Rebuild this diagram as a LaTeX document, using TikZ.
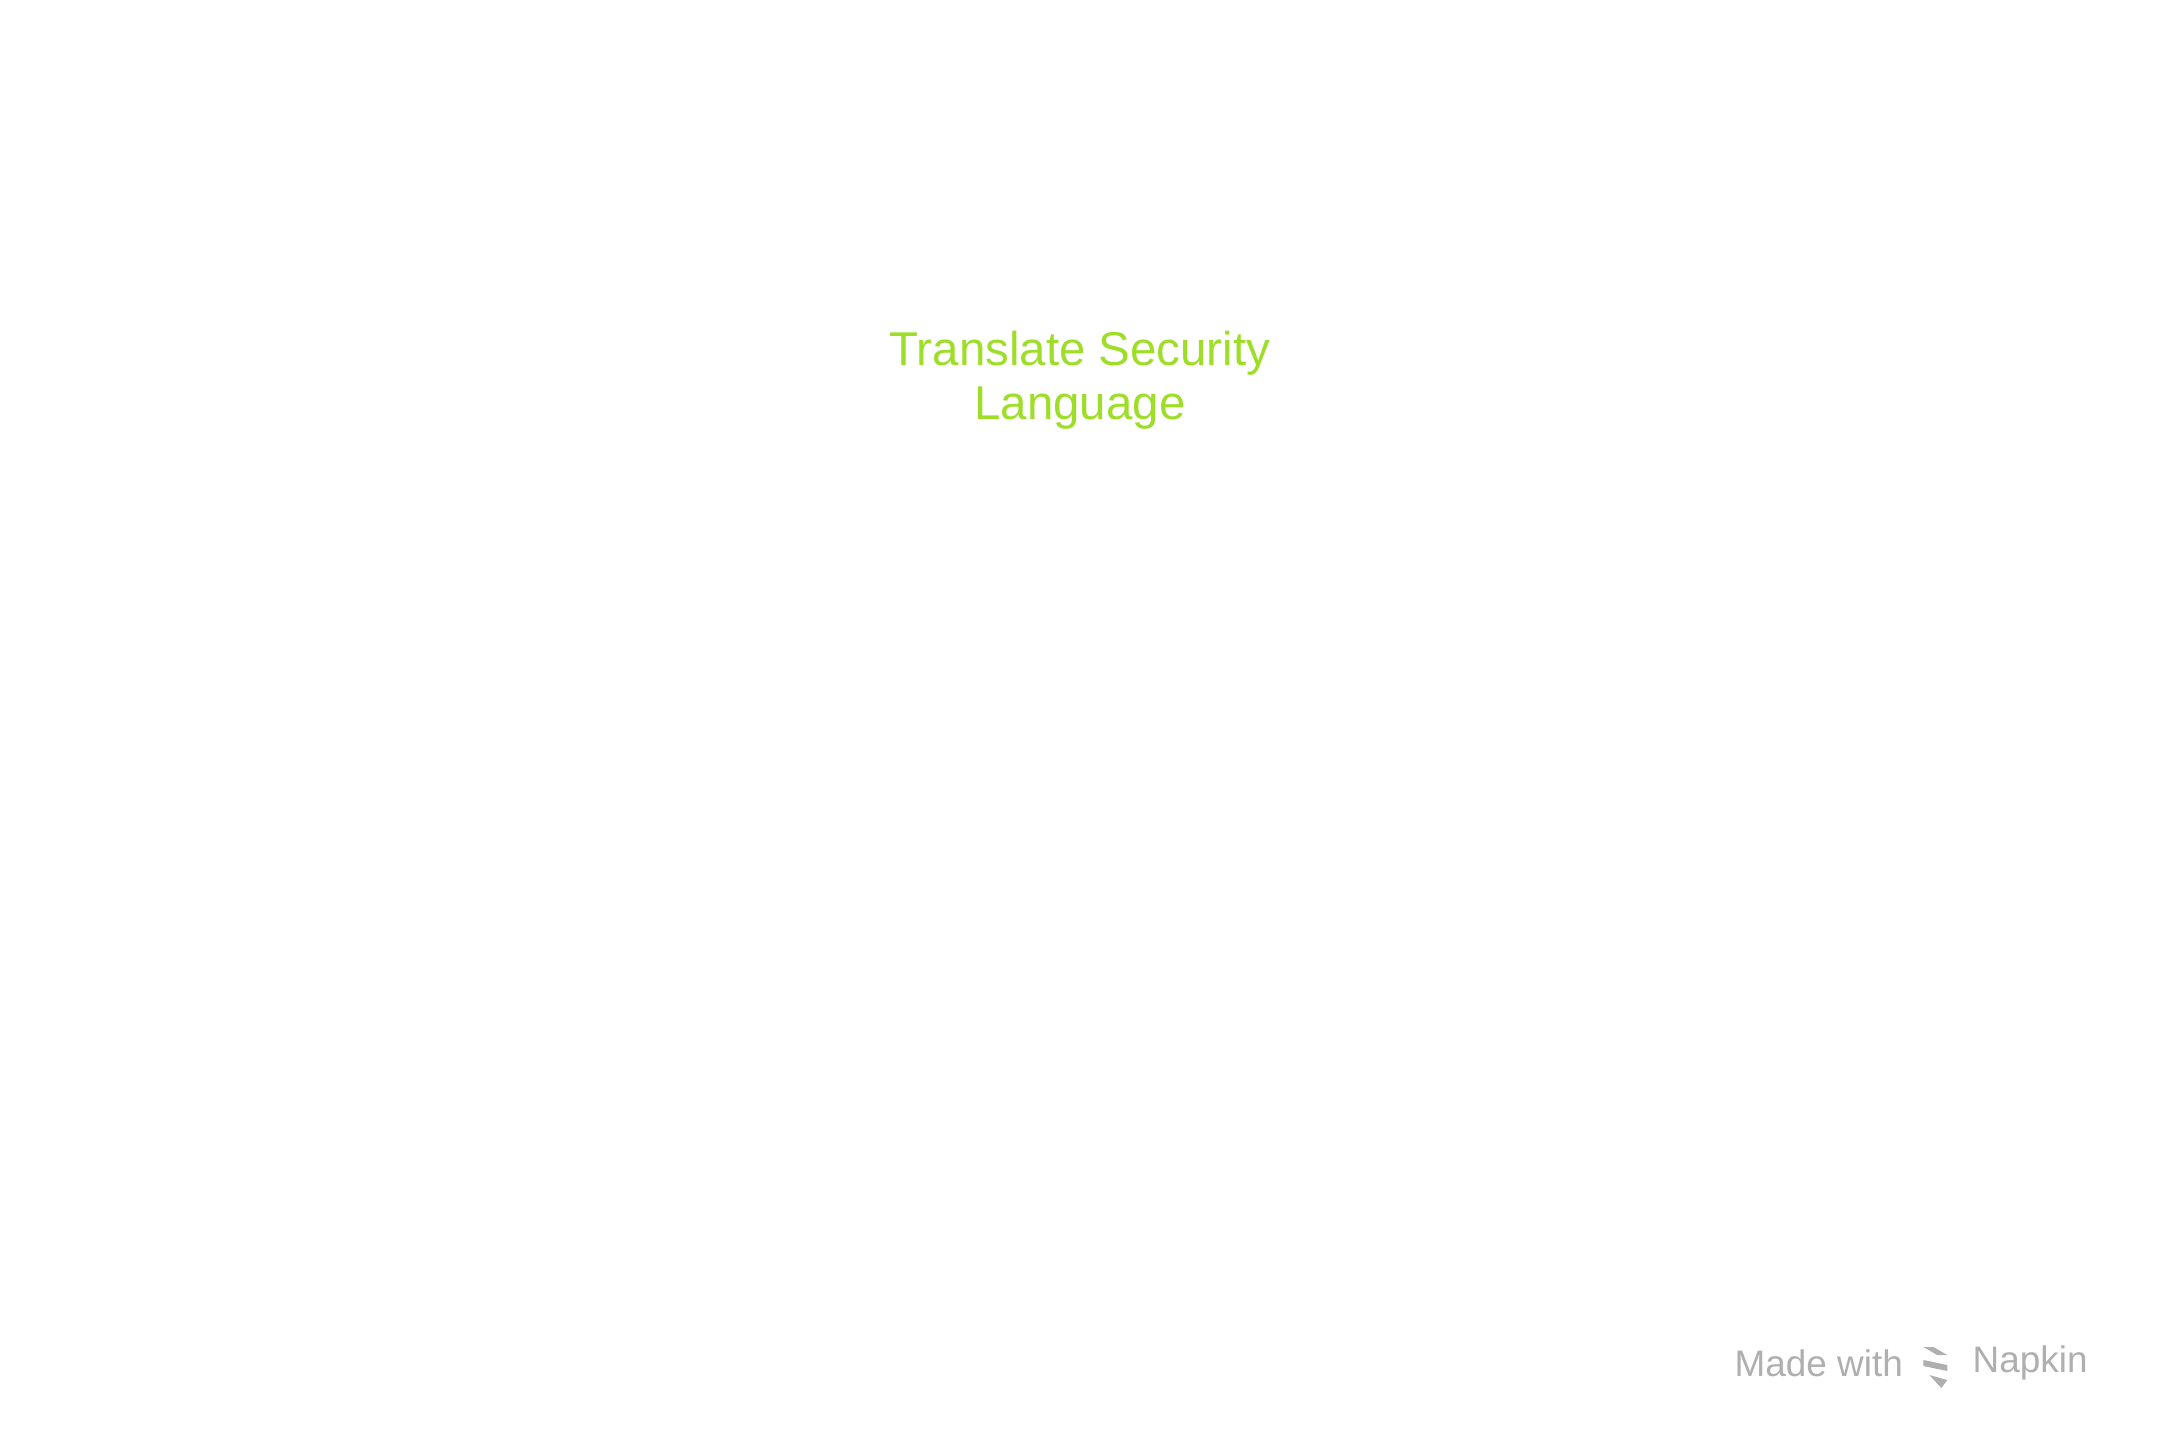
\documentclass[tikz,border=0pt]{standalone}
\usepackage{fontspec}
\setmainfont{Liberation Sans}
\usetikzlibrary{positioning,calc}
\definecolor{titlegreen}{RGB}{158,222,40}
\definecolor{markgray}{RGB}{175,175,175}
\tikzset{
  title/.style={text=titlegreen, font=\fontsize{13.5}{15.5}\selectfont, align=center},
  watermark/.style={text=markgray, font=\fontsize{10.5}{12}\selectfont}
}
\begin{document}
\begin{tikzpicture}
    \useasboundingbox (0,0) rectangle (21.6,14.4);

    \node[title] (step) at (10.8,10.6) {Translate Security\\Language};

    % watermark
    \node[watermark, anchor=east] (napkin) at (21.0,0.77) {Napkin};
    \coordinate (logo) at ($(napkin.west)+(-0.25,0)$);
    \node[watermark, anchor=east] (made) at ($(logo)+(-0.2,0)$) {Made with};
    \fill[markgray] ($(logo)+(-0.12,0.16)$) -- ++(0.1,0) -- ++(0.14,-0.08) -- ++(-0.1,0) -- cycle;
    \fill[markgray] ($(logo)+(-0.12,0.03)$) -- ++(0.24,-0.05) -- ++(0,-0.06) -- ++(-0.24,0.05) -- cycle;
    \fill[markgray] ($(logo)+(-0.06,-0.12)$) -- ++(0.18,-0.05) -- ++(-0.06,-0.08) -- cycle;
\end{tikzpicture}
\end{document}
